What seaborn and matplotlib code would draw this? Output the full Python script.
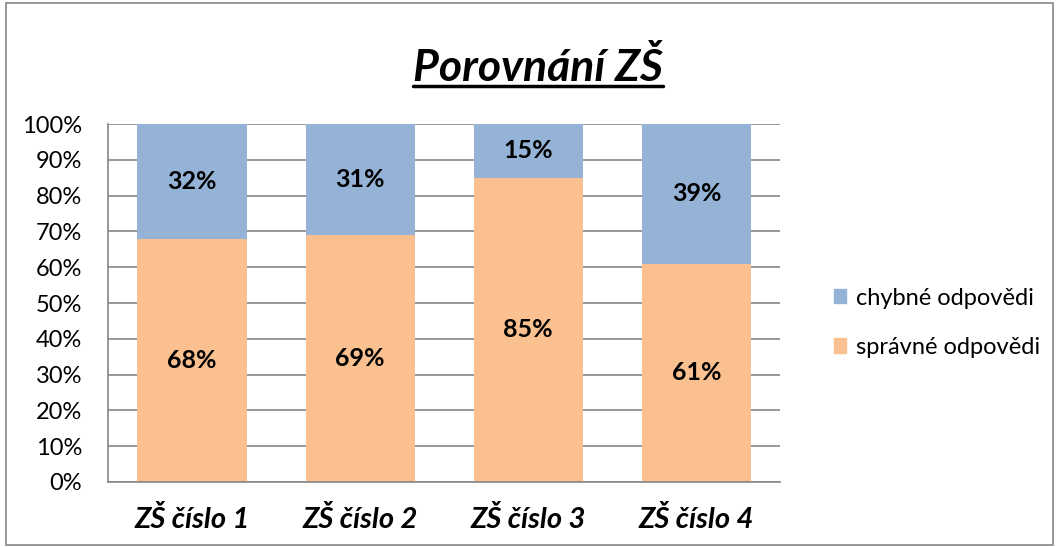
import numpy as np
import matplotlib.pyplot as plt
import matplotlib.lines as mlines
import matplotlib.patches as mpatches
import seaborn as sns
import pandas as pd

# Data
schools = ['ZŠ číslo 1', 'ZŠ číslo 2', 'ZŠ číslo 3', 'ZŠ číslo 4']
correct = [68, 69, 85, 61]
wrong = [32, 31, 15, 39]

c_correct = '#FAC090'
c_wrong = '#95B3D7'

sns.set_style('white')
plt.rcParams['font.family'] = ['Lato', 'DejaVu Sans']
plt.rcParams['text.color'] = 'black'
plt.rcParams['xtick.color'] = 'black'
plt.rcParams['ytick.color'] = 'black'

df = pd.DataFrame({'school': schools, 'correct': correct, 'wrong': wrong})
df['total'] = df['correct'] + df['wrong']

fig = plt.figure(figsize=(10.59, 5.47), dpi=100)
ax = fig.add_axes([0.102, 0.119, 0.635, 0.654])

# stacked: draw totals first, then correct on top of it
sns.barplot(data=df, x='school', y='total', color=c_wrong, width=0.65,
            saturation=1, ax=ax, zorder=2, linewidth=0)
sns.barplot(data=df, x='school', y='correct', color=c_correct, width=0.65,
            saturation=1, ax=ax, zorder=2, linewidth=0)

# segment labels
for i, row in df.iterrows():
    ax.text(i, row['correct'] / 2, f"{row['correct']}%", ha='center', va='center',
            fontsize=18, fontweight='bold', zorder=3)
    ax.text(i, row['correct'] + row['wrong'] / 2, f"{row['wrong']}%", ha='center',
            va='center', fontsize=18, fontweight='bold', zorder=3)

ax.set_ylim(0, 100)
ax.set_xlim(-0.5, 3.5)
ax.set_yticks(np.arange(0, 101, 10))
ax.set_yticklabels([f'{v}%' for v in range(0, 101, 10)], fontsize=17)
ax.set_xticks(range(len(schools)))
ax.set_xticklabels(schools, fontsize=21, fontweight='bold', style='italic')
ax.set_xlabel('')
ax.set_ylabel('')
ax.yaxis.grid(True, color='#868686', linewidth=1.2, zorder=0)
ax.set_axisbelow(True)
for s in ['top', 'right']:
    ax.spines[s].set_visible(False)
for s in ['left', 'bottom']:
    ax.spines[s].set_color('#868686')
    ax.spines[s].set_linewidth(1.2)
ax.tick_params(axis='y', left=False, pad=15, labelcolor='black')
ax.tick_params(axis='x', bottom=False, pad=14, labelcolor='black')

# legend
handles = [mpatches.Patch(color=c_wrong, label='chybné odpovědi'),
           mpatches.Patch(color=c_correct, label='správné odpovědi')]
fig.legend(handles=handles, loc='center left', bbox_to_anchor=(0.767, 0.41),
           frameon=False, fontsize=17, handlelength=0.55, handleheight=0.55,
           handletextpad=0.4, labelspacing=1.2)

# title with underline
title = fig.text(0.508, 0.877, 'Porovnání ZŠ', ha='center', va='center',
                 fontsize=32, fontweight='bold', style='italic')
fig.canvas.draw()
bb = title.get_window_extent().transformed(fig.transFigure.inverted())
fig.add_artist(mlines.Line2D([bb.x0, bb.x1], [bb.y0 + 0.004, bb.y0 + 0.004],
                             color='black', linewidth=2.5, transform=fig.transFigure))

# chart border
fig.add_artist(mpatches.Rectangle((0.006, 0.004), 0.988, 0.99, fill=False,
                                  edgecolor='#868686', linewidth=1.2,
                                  transform=fig.transFigure))

fig.savefig('out.png', dpi=100)
